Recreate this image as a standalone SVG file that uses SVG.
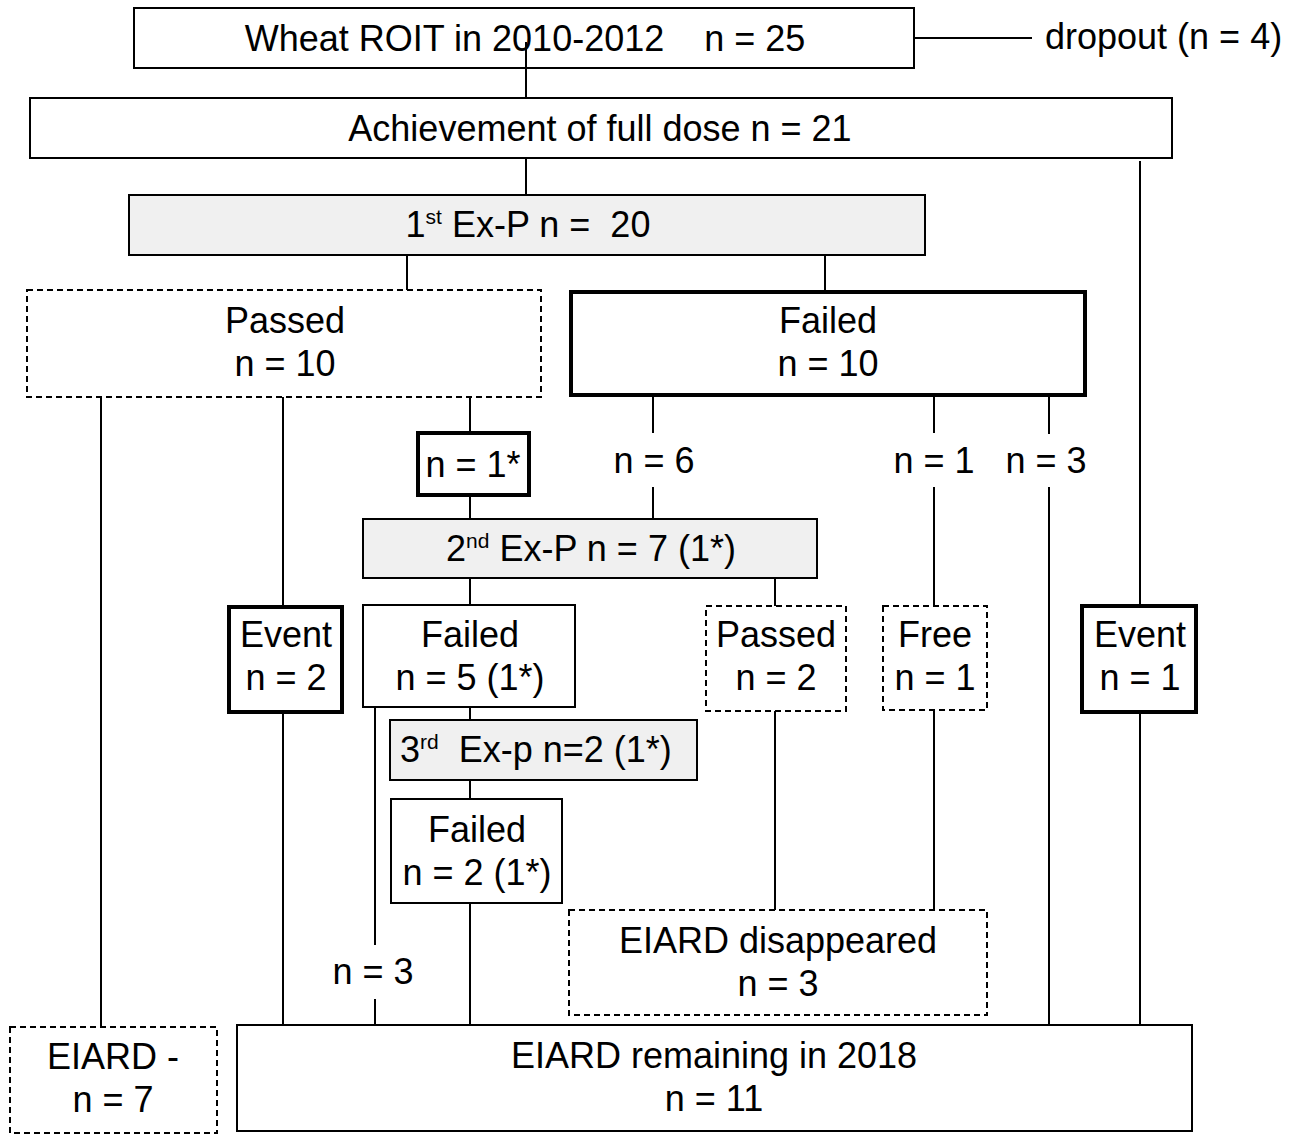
<svg xmlns="http://www.w3.org/2000/svg" width="1292" height="1136" viewBox="0 0 1292 1136">
<style>
text{font-family:"Liberation Sans",Arial,Helvetica,sans-serif;font-size:36px;fill:#000;text-anchor:middle;white-space:pre}
.b{fill:#fff;stroke:#000;stroke-width:2}
.g{fill:#f0f0f0;stroke:#000;stroke-width:2}
.t{fill:#fff;stroke:#000;stroke-width:4}
.d{fill:#fff;stroke:#000;stroke-width:2;stroke-dasharray:6 4}
.c line{stroke:#000;stroke-width:2}
.sup{font-size:21px}
</style>
<rect width="1292" height="1136" fill="#fff"/>
<g id="n-wheat"><rect class="b" x="134" y="8" width="780" height="60"/></g>
<g class="c" id="connectors">
<line x1="914" y1="38" x2="1032" y2="38"/>
<line x1="526" y1="42" x2="526" y2="98"/>
<line x1="526" y1="158" x2="526" y2="195"/>
<line x1="1140" y1="161" x2="1140" y2="605"/>
<line x1="407" y1="255" x2="407" y2="290"/>
<line x1="825" y1="255" x2="825" y2="291"/>
<line x1="101" y1="397" x2="101" y2="1027"/>
<line x1="283" y1="397" x2="283" y2="606"/>
<line x1="470" y1="397" x2="470" y2="432"/>
<line x1="470" y1="495" x2="470" y2="519"/>
<line x1="653" y1="395" x2="653" y2="433"/>
<line x1="653" y1="487" x2="653" y2="519"/>
<line x1="934" y1="395" x2="934" y2="433"/>
<line x1="934" y1="487" x2="934" y2="606"/>
<line x1="1049" y1="392" x2="1049" y2="434"/>
<line x1="1049" y1="487" x2="1049" y2="1025"/>
<line x1="470" y1="578" x2="470" y2="605"/>
<line x1="775" y1="578" x2="775" y2="606"/>
<line x1="375" y1="707" x2="375" y2="945"/>
<line x1="375" y1="999" x2="375" y2="1025"/>
<line x1="470" y1="707" x2="470" y2="720"/>
<line x1="470" y1="780" x2="470" y2="799"/>
<line x1="470" y1="903" x2="470" y2="1025"/>
<line x1="775" y1="711" x2="775" y2="910"/>
<line x1="934" y1="710" x2="934" y2="910"/>
<line x1="283" y1="712" x2="283" y2="1025"/>
<line x1="1140" y1="713" x2="1140" y2="1025"/>
</g>
<g id="t-wheat"><text x="525" y="51">Wheat ROIT in 2010-2012    n = 25</text></g>
<g id="n-dropout"><text x="1045" y="49" style="text-anchor:start">dropout (n = 4)</text></g>
<g id="n-full"><rect class="b" x="30" y="98" width="1142" height="60"/><text x="600" y="141">Achievement of full dose n = 21</text></g>
<g id="n-exp1"><rect class="g" x="129" y="195" width="796" height="60"/><text x="528" y="237">1<tspan class="sup" dy="-13">st</tspan><tspan dy="13"> Ex-P n =  20</tspan></text></g>
<g id="n-passed"><rect class="d" x="27" y="290" width="514" height="107"/><text x="285" y="333">Passed</text><text x="285" y="376">n = 10</text></g>
<g id="n-failed"><rect class="t" x="571" y="292" width="514" height="103"/><text x="828" y="333">Failed</text><text x="828" y="376">n = 10</text></g>
<g id="n-star"><rect class="t" x="418" y="433" width="111" height="62"/><text x="473" y="477">n = 1*</text></g>
<g id="l-n6"><text x="654" y="473">n = 6</text></g>
<g id="l-n1"><text x="934" y="473">n = 1</text></g>
<g id="l-n3a"><text x="1046" y="473">n = 3</text></g>
<g id="n-exp2"><rect class="g" x="363" y="519" width="454" height="59"/><text x="591" y="561">2<tspan class="sup" dy="-13">nd</tspan><tspan dy="13"> Ex-P n = 7 (1*)</tspan></text></g>
<g id="n-event2"><rect class="t" x="229" y="607" width="113" height="105"/><text x="286" y="647">Event</text><text x="286" y="690">n = 2</text></g>
<g id="n-failed5"><rect class="b" x="363" y="605" width="212" height="102"/><text x="470" y="647">Failed</text><text x="470" y="690">n = 5 (1*)</text></g>
<g id="n-passed2"><rect class="d" x="706" y="606" width="140" height="105"/><text x="776" y="647">Passed</text><text x="776" y="690">n = 2</text></g>
<g id="n-free"><rect class="d" x="883" y="606" width="104" height="104"/><text x="935" y="647">Free</text><text x="935" y="690">n = 1</text></g>
<g id="n-event1"><rect class="t" x="1082" y="606" width="114" height="106"/><text x="1140" y="647">Event</text><text x="1140" y="690">n = 1</text></g>
<g id="n-exp3"><rect class="g" x="390" y="720" width="307" height="60"/><text x="400" y="762" style="text-anchor:start">3<tspan class="sup" dy="-13">rd</tspan><tspan dy="13">  Ex-p n=2 (1*)</tspan></text></g>
<g id="n-failed2"><rect class="b" x="391" y="799" width="171" height="104"/><text x="477" y="842">Failed</text><text x="477" y="885">n = 2 (1*)</text></g>
<g id="l-n3b"><text x="373" y="984">n = 3</text></g>
<g id="n-disappeared"><rect class="d" x="569" y="910" width="418" height="105"/><text x="778" y="953">EIARD disappeared</text><text x="778" y="996">n = 3</text></g>
<g id="n-eiardminus"><rect class="d" x="10" y="1027" width="207" height="106"/><text x="113" y="1069">EIARD -</text><text x="113" y="1112">n = 7</text></g>
<g id="n-remaining"><rect class="b" x="237" y="1025" width="955" height="106"/><text x="714" y="1068">EIARD remaining in 2018</text><text x="714" y="1111">n = 11</text></g>
</svg>
